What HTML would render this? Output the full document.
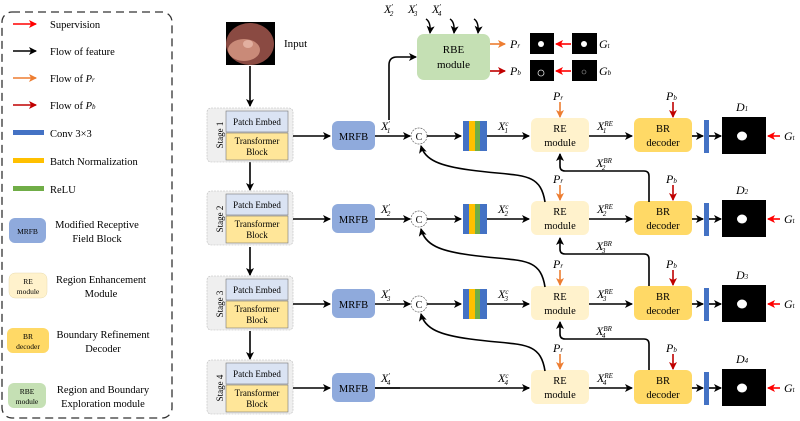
<!DOCTYPE html>
<html><head><meta charset="utf-8"><style>
body{margin:0;background:#fff}
svg{display:block}
text{font-family:"Liberation Serif",serif;fill:#000}
.i{font-style:italic}
</style></head><body>
<svg width="800" height="421" viewBox="0 0 800 421" xmlns="http://www.w3.org/2000/svg">
<defs>
<marker id="ak" markerWidth="8" markerHeight="8" refX="7" refY="4" orient="auto" markerUnits="userSpaceOnUse"><path d="M0,0 L8,4 L0,8 L2,4 z" fill="#000"/></marker>
<marker id="ao" markerWidth="8" markerHeight="8" refX="7" refY="4" orient="auto" markerUnits="userSpaceOnUse"><path d="M0,0 L8,4 L0,8 L2,4 z" fill="#ed7d31"/></marker>
<marker id="ad" markerWidth="8" markerHeight="8" refX="7" refY="4" orient="auto" markerUnits="userSpaceOnUse"><path d="M0,0 L8,4 L0,8 L2,4 z" fill="#c00000"/></marker>
<marker id="ar" markerWidth="8" markerHeight="8" refX="7" refY="4" orient="auto" markerUnits="userSpaceOnUse"><path d="M0,0 L8,4 L0,8 L2,4 z" fill="#ff0000"/></marker>
</defs>

<!-- Legend -->
<rect x="2" y="12" width="170" height="406" rx="10" fill="none" stroke="#333" stroke-width="1.3" stroke-dasharray="8,5"/>
<g font-size="10.5">
<line x1="13" y1="24" x2="36" y2="24" stroke="#ff0000" stroke-width="1.6" marker-end="url(#ar)"/><text x="50" y="28">Supervision</text>
<line x1="13" y1="51" x2="36" y2="51" stroke="#000" stroke-width="1.6" marker-end="url(#ak)"/><text x="50" y="55">Flow of feature</text>
<line x1="13" y1="78" x2="36" y2="78" stroke="#ed7d31" stroke-width="1.6" marker-end="url(#ao)"/><text x="50" y="82">Flow of <tspan class="i">P</tspan><tspan font-size="7" class="i">r</tspan></text>
<line x1="13" y1="105" x2="36" y2="105" stroke="#c00000" stroke-width="1.6" marker-end="url(#ad)"/><text x="50" y="109">Flow of <tspan class="i">P</tspan><tspan font-size="7" class="i">b</tspan></text>
<rect x="13" y="130" width="31" height="5" fill="#4472c4"/><text x="50" y="137">Conv 3×3</text>
<rect x="13" y="158" width="31" height="5" fill="#ffc000"/><text x="50" y="165">Batch Normalization</text>
<rect x="13" y="186" width="31" height="5" fill="#70ad47"/><text x="50" y="193">ReLU</text>
<rect x="9" y="218" width="37" height="25" rx="6" fill="#8faadc"/><text x="27.5" y="234" font-size="7.5" text-anchor="middle">MRFB</text>
<text x="97" y="228" text-anchor="middle">Modified Receptive</text><text x="97" y="242" text-anchor="middle">Field Block</text>
<rect x="9" y="273" width="38" height="25" rx="6" fill="#fff2cc" stroke="#e8dcb0" stroke-width="0.5"/><text x="28" y="284" font-size="7.5" text-anchor="middle">RE</text><text x="28" y="294" font-size="7.5" text-anchor="middle">module</text>
<text x="101" y="283" text-anchor="middle">Region Enhancement</text><text x="101" y="297" text-anchor="middle">Module</text>
<rect x="7" y="328" width="42" height="25" rx="6" fill="#ffd966"/><text x="28" y="339" font-size="7.5" text-anchor="middle">BR</text><text x="28" y="349" font-size="7.5" text-anchor="middle">decoder</text>
<text x="103" y="338" text-anchor="middle">Boundary Refinement</text><text x="103" y="352" text-anchor="middle">Decoder</text>
<rect x="8" y="383" width="38" height="25" rx="6" fill="#c5e0b4"/><text x="27" y="394" font-size="7.5" text-anchor="middle">RBE</text><text x="27" y="404" font-size="7.5" text-anchor="middle">module</text>
<text x="103" y="393" text-anchor="middle">Region and Boundary</text><text x="103" y="407" text-anchor="middle">Exploration module</text>
</g>

<!-- Input -->
<rect x="226" y="22" width="49" height="43" fill="#000"/>
<ellipse cx="250" cy="44" rx="24" ry="21" fill="#8a4a42"/>
<ellipse cx="244" cy="50" rx="16" ry="11" fill="#c98a78"/>
<ellipse cx="248" cy="44" rx="5" ry="4" fill="#e2b0a0"/>
<text x="284" y="47" font-size="11">Input</text>
<line x1="250" y1="66" x2="250" y2="106" stroke="#000" stroke-width="1.6" marker-end="url(#ak)"/>

<!-- RBE -->
<rect x="417" y="34" width="73" height="46" rx="7" fill="#c5e0b4"/>
<text x="453.5" y="53" font-size="11" text-anchor="middle">RBE</text><text x="453.5" y="68" font-size="11" text-anchor="middle">module</text>
<g font-size="12"><text x="384" y="13" class="i">X<tspan font-size="7" dy="-4">′</tspan><tspan font-size="7" dx="-3" dy="7">2</tspan></text>
<text x="408" y="13" class="i">X<tspan font-size="7" dy="-4">′</tspan><tspan font-size="7" dx="-3" dy="7">3</tspan></text>
<text x="432" y="13" class="i">X<tspan font-size="7" dy="-4">′</tspan><tspan font-size="7" dx="-3" dy="7">4</tspan></text></g>
<path d="M426,19 Q431,22 430,33" fill="none" stroke="#000" stroke-width="1.5" marker-end="url(#ak)"/>
<path d="M450,19 Q455,22 454,33" fill="none" stroke="#000" stroke-width="1.5" marker-end="url(#ak)"/>
<path d="M474,19 Q479,22 478,33" fill="none" stroke="#000" stroke-width="1.5" marker-end="url(#ak)"/>
<path d="M389,120 L389,65 Q389,57 397,57 L416,57" fill="none" stroke="#000" stroke-width="1.6" marker-end="url(#ak)"/>
<line x1="490" y1="44" x2="505" y2="44" stroke="#ed7d31" stroke-width="1.6" marker-end="url(#ao)"/>
<line x1="490" y1="71" x2="505" y2="71" stroke="#c00000" stroke-width="1.6" marker-end="url(#ad)"/>
<text x="510" y="48" font-size="12" class="i">P<tspan font-size="7">r</tspan></text>
<text x="510" y="75" font-size="12" class="i">P<tspan font-size="7">b</tspan></text>
<rect x="530" y="33" width="24" height="21" fill="#000"/><circle cx="541" cy="44" r="3" fill="#fff"/>
<rect x="530" y="60" width="24" height="21" fill="#000"/><circle cx="541" cy="73" r="3" fill="none" stroke="#ddd" stroke-width="0.8"/>
<rect x="572" y="33" width="25" height="21" fill="#000"/><circle cx="584" cy="44" r="3" fill="#fff"/>
<rect x="572" y="60" width="25" height="21" fill="#000"/><circle cx="584" cy="72" r="2" fill="none" stroke="#999" stroke-width="0.6"/>
<line x1="571" y1="44" x2="556" y2="44" stroke="#ff0000" stroke-width="1.6" marker-end="url(#ar)"/>
<line x1="571" y1="71" x2="556" y2="71" stroke="#ff0000" stroke-width="1.6" marker-end="url(#ar)"/>
<text x="599" y="48" font-size="12" class="i">G<tspan font-size="7">t</tspan></text>
<text x="599" y="75" font-size="12" class="i">G<tspan font-size="7">b</tspan></text>

<!-- Stage down arrows -->
<line x1="250" y1="162" x2="250" y2="190" stroke="#000" stroke-width="1.6" marker-end="url(#ak)"/>
<line x1="250" y1="247" x2="250" y2="275" stroke="#000" stroke-width="1.6" marker-end="url(#ak)"/>
<line x1="250" y1="331" x2="250" y2="359" stroke="#000" stroke-width="1.6" marker-end="url(#ak)"/>

<!-- Rows -->
<g id="r1">
<rect x="207" y="108" width="86" height="54" rx="4" fill="#efefef" stroke="#bbb" stroke-width="0.6" stroke-dasharray="2,1"/>
<rect x="226" y="111" width="62" height="21" fill="#dae3f3" stroke="#777" stroke-width="0.6"/>
<rect x="226" y="133" width="62" height="27" fill="#ffe699" stroke="#777" stroke-width="0.6"/>
<text x="257" y="125" font-size="9" text-anchor="middle">Patch Embed</text>
<text x="257" y="144" font-size="9" text-anchor="middle">Transformer</text><text x="257" y="155" font-size="9" text-anchor="middle">Block</text>
<line x1="293" y1="136" x2="330" y2="136" stroke="#000" stroke-width="1.6" marker-end="url(#ak)"/>
<rect x="332" y="121" width="43" height="29" rx="6" fill="#8faadc"/>
<text x="353.5" y="140" font-size="10.5" text-anchor="middle">MRFB</text>
<line x1="375" y1="136" x2="410" y2="136" stroke="#000" stroke-width="1.6" marker-end="url(#ak)"/>
<circle cx="419" cy="136" r="8" fill="#fff" stroke="#666" stroke-width="0.7" stroke-dasharray="2,1"/>
<text x="419" y="140" font-size="10" text-anchor="middle">C</text>
<line x1="427" y1="136" x2="461" y2="136" stroke="#000" stroke-width="1.6" marker-end="url(#ak)"/>
<rect x="463" y="121" width="6" height="30" fill="#4472c4"/><rect x="469" y="121" width="6" height="30" fill="#ffc000"/><rect x="475" y="121" width="5" height="30" fill="#70ad47"/><rect x="480" y="121" width="7" height="30" fill="#4472c4"/>
<line x1="487" y1="136" x2="529" y2="136" stroke="#000" stroke-width="1.6" marker-end="url(#ak)"/>
<rect x="531" y="118" width="58" height="34" rx="6" fill="#fff2cc"/>
<text x="560" y="132" font-size="10.5" text-anchor="middle">RE</text><text x="560" y="146" font-size="10.5" text-anchor="middle">module</text>
<line x1="560" y1="102" x2="560" y2="117" stroke="#ed7d31" stroke-width="1.6" marker-end="url(#ao)"/>
<text x="553" y="100" font-size="12" class="i">P<tspan font-size="7">r</tspan></text>
<line x1="589" y1="136" x2="632" y2="136" stroke="#000" stroke-width="1.6" marker-end="url(#ak)"/>
<rect x="634" y="118" width="58" height="34" rx="6" fill="#ffd966"/>
<text x="663" y="132" font-size="10.5" text-anchor="middle">BR</text><text x="663" y="146" font-size="10.5" text-anchor="middle">decoder</text>
<line x1="673" y1="102" x2="673" y2="117" stroke="#c00000" stroke-width="1.6" marker-end="url(#ad)"/>
<text x="666" y="100" font-size="12" class="i">P<tspan font-size="7">b</tspan></text>
<line x1="692" y1="136" x2="703" y2="136" stroke="#000" stroke-width="1.6" marker-end="url(#ak)"/>
<rect x="704" y="120" width="5" height="33" fill="#4472c4"/>
<line x1="709" y1="136" x2="721" y2="136" stroke="#000" stroke-width="1.6" marker-end="url(#ak)"/>
<rect x="722" y="117" width="44" height="37" fill="#000"/><ellipse cx="742" cy="136" rx="5" ry="4.5" fill="#fff"/>
<line x1="780" y1="136" x2="768" y2="136" stroke="#ff0000" stroke-width="1.6" marker-end="url(#ar)"/>
<text x="784" y="140" font-size="12" class="i">G<tspan font-size="7">t</tspan></text>
</g>
<g font-size="12">
<text x="381" y="130" class="i">X<tspan font-size="7" dy="-4">′</tspan><tspan font-size="7" dx="-3" dy="7">1</tspan></text>
<text x="498" y="130" class="i">X<tspan font-size="7" dy="-4">c</tspan><tspan font-size="7" dx="-4" dy="7">1</tspan></text>
<text x="597" y="130" class="i">X<tspan font-size="7" dy="-4">RE</tspan><tspan font-size="7" dx="-10" dy="7">1</tspan></text>
<text x="736" y="111" class="i">D<tspan font-size="7">1</tspan></text>
</g>

<use href="#r1" transform="translate(0,83)"/>
<use href="#r1" transform="translate(0,168)"/>
<use href="#r1" transform="translate(0,252)"/>
<rect x="400" y="370" width="128" height="36" fill="#fff"/>
<line x1="375" y1="388" x2="529" y2="388" stroke="#000" stroke-width="1.6" marker-end="url(#ak)"/>

<g font-size="12">
<text x="381" y="213" class="i">X<tspan font-size="7" dy="-4">′</tspan><tspan font-size="7" dx="-3" dy="7">2</tspan></text>
<text x="498" y="213" class="i">X<tspan font-size="7" dy="-4">c</tspan><tspan font-size="7" dx="-4" dy="7">2</tspan></text>
<text x="597" y="213" class="i">X<tspan font-size="7" dy="-4">RE</tspan><tspan font-size="7" dx="-10" dy="7">2</tspan></text>
<text x="736" y="194" class="i">D<tspan font-size="7">2</tspan></text>
<text x="381" y="298" class="i">X<tspan font-size="7" dy="-4">′</tspan><tspan font-size="7" dx="-3" dy="7">3</tspan></text>
<text x="498" y="298" class="i">X<tspan font-size="7" dy="-4">c</tspan><tspan font-size="7" dx="-4" dy="7">3</tspan></text>
<text x="597" y="298" class="i">X<tspan font-size="7" dy="-4">RE</tspan><tspan font-size="7" dx="-10" dy="7">3</tspan></text>
<text x="736" y="279" class="i">D<tspan font-size="7">3</tspan></text>
<text x="381" y="382" class="i">X<tspan font-size="7" dy="-4">′</tspan><tspan font-size="7" dx="-3" dy="7">4</tspan></text>
<text x="498" y="382" class="i">X<tspan font-size="7" dy="-4">c</tspan><tspan font-size="7" dx="-4" dy="7">4</tspan></text>
<text x="597" y="382" class="i">X<tspan font-size="7" dy="-4">RE</tspan><tspan font-size="7" dx="-10" dy="7">4</tspan></text>
<text x="736" y="363" class="i">D<tspan font-size="7">4</tspan></text>
<text x="596" y="167" class="i">X<tspan font-size="7" dy="-4">BR</tspan><tspan font-size="7" dx="-10" dy="7">2</tspan></text>
<text x="596" y="250" class="i">X<tspan font-size="7" dy="-4">BR</tspan><tspan font-size="7" dx="-10" dy="7">3</tspan></text>
<text x="596" y="335" class="i">X<tspan font-size="7" dy="-4">BR</tspan><tspan font-size="7" dx="-10" dy="7">4</tspan></text>
</g>

<g font-size="9">
<text transform="translate(220,135) rotate(-90)" text-anchor="middle" x="0" y="3">Stage 1</text>
<text transform="translate(220,219) rotate(-90)" text-anchor="middle" x="0" y="3">Stage 2</text>
<text transform="translate(220,304) rotate(-90)" text-anchor="middle" x="0" y="3">Stage 3</text>
<text transform="translate(220,388) rotate(-90)" text-anchor="middle" x="0" y="3">Stage 4</text>
</g>

<g fill="none" stroke="#000" stroke-width="1.6">
<path d="M545,202 C540,170 520,177 470,170 C440,166 425,160 421,146" marker-end="url(#ak)"/>
<path d="M545,287 C540,255 520,262 470,255 C440,251 425,245 421,229" marker-end="url(#ak)"/>
<path d="M545,371 C540,339 520,346 470,339 C440,335 425,329 421,314" marker-end="url(#ak)"/>
<path d="M649,202 L649,176 Q649,171 644,171 L565,171 Q560,171 560,166 L560,154" marker-end="url(#ak)"/>
<path d="M649,286 L649,259 Q649,254 644,254 L565,254 Q560,254 560,249 L560,238" marker-end="url(#ak)"/>
<path d="M649,370 L649,344 Q649,339 644,339 L565,339 Q560,339 560,334 L560,322" marker-end="url(#ak)"/>
</g>
</svg>
</body></html>
